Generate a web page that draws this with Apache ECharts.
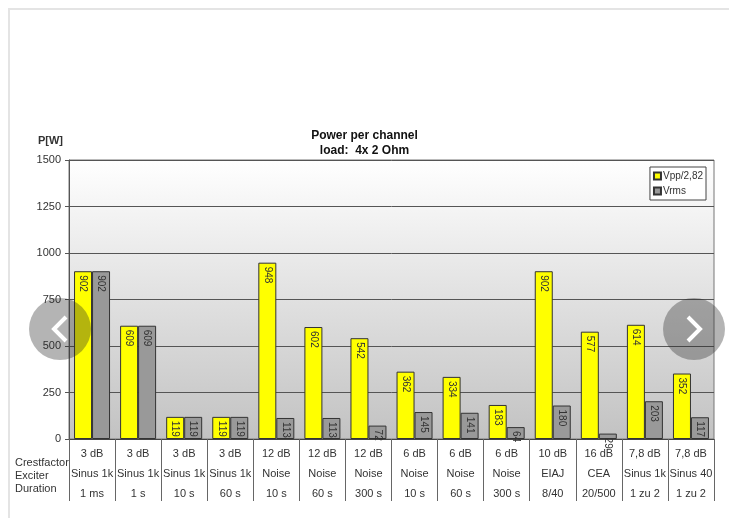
<!DOCTYPE html>
<html>
<head>
<meta charset="utf-8">
<script src="https://cdn.jsdelivr.net/npm/echarts@6/dist/echarts.min.js"></script>
<style>
  html, body { margin: 0; padding: 0; background: #fff; }
  #chart { width: 729px; height: 518px; }
</style>
</head>
<body>
<div id="chart"></div>
<script>
// test conditions (3 label rows under each category)
var crestfactor = ['3 dB', '3 dB', '3 dB', '3 dB', '12 dB', '12 dB', '12 dB', '6 dB', '6 dB', '6 dB', '10 dB', '16 dB', '7,8 dB', '7,8 dB'];
var exciter = ['Sinus 1k', 'Sinus 1k', 'Sinus 1k', 'Sinus 1k', 'Noise', 'Noise', 'Noise', 'Noise', 'Noise', 'Noise', 'EIAJ', 'CEA', 'Sinus 1k', 'Sinus 40'];
var duration = ['1 ms', '1 s', '10 s', '60 s', '10 s', '60 s', '300 s', '10 s', '60 s', '300 s', '8/40', '20/500', '1 zu 2', '1 zu 2'];

var vpp = [902, 609, 119, 119, 948, 602, 542, 362, 334, 183, 902, 577, 614, 352];
var vrms = [902, 609, 119, 119, 113, 113, 72, 145, 141, 64, 180, 29, 203, 117];

var yTicks = [0, 250, 500, 750, 1000, 1250, 1500];

window.onload = function() {
    var myChart = echarts.init(document.getElementById('chart'));

    var categories = crestfactor.map(function(c, i) {
        return c + '\n' + exciter[i] + '\n' + duration[i];
    });

    var barLabel = {
        show: true,
        position: 'insideTop',
        rotate: -90,
        align: 'left',
        verticalAlign: 'middle',
        distance: 4,
        fontSize: 10,
        color: '#333',
        fontFamily: 'Liberation Sans'
    };

    var option = {
        backgroundColor: '#fff',
        animation: false,
        title: {
            text: 'Power per channel\nload:  4x 2 Ohm',
            left: 'center',
            top: 123,
            textStyle: {
                fontSize: 12,
                fontWeight: 'bold',
                color: '#111',
                lineHeight: 15,
                fontFamily: 'Liberation Sans'
            }
        },
        legend: {
            data: ['Vpp/2,82', 'Vrms'],
            orient: 'vertical',
            right: 23,
            top: 167,
            icon: 'rect',
            itemWidth: 7,
            itemHeight: 7,
            itemGap: 5,
            padding: [4, 3, 4, 3],
            backgroundColor: '#fff',
            borderColor: '#444',
            borderWidth: 1,
            textStyle: {
                fontSize: 10,
                color: '#333',
                fontFamily: 'Liberation Sans',
                padding: [0, 0, 0, -3]
            }
        },
        grid: {
            left: 69,
            right: 15,
            top: 160,
            bottom: 79,
            show: true,
            borderColor: '#777',
            borderWidth: 1,
            backgroundColor: new echarts.graphic.LinearGradient(0, 0, 0, 1, [
                { offset: 0, color: '#ffffff' },
                { offset: 1, color: '#c2c2c2' }
            ])
        },
        xAxis: {
            type: 'category',
            data: categories,
            axisLine: { lineStyle: { color: '#444' } },
            axisTick: {
                show: true,
                length: 62,
                lineStyle: { color: '#666' }
            },
            axisLabel: {
                interval: 0,
                margin: 5,
                fontSize: 11,
                lineHeight: 20,
                color: '#333',
                fontFamily: 'Liberation Sans'
            }
        },
        yAxis: {
            type: 'value',
            min: 0,
            max: 1500,
            interval: 250,
            name: 'P[W]',
            nameLocation: 'end',
            nameGap: 14,
            nameTextStyle: {
                fontSize: 11,
                fontWeight: 'bold',
                color: '#333',
                align: 'right',
                padding: [0, 6, 0, 0],
                fontFamily: 'Liberation Sans'
            },
            axisLine: { show: true, lineStyle: { color: '#555' } },
            axisTick: { show: true, length: 4, lineStyle: { color: '#555' } },
            axisLabel: {
                fontSize: 11,
                color: '#333',
                margin: 8,
                fontFamily: 'Liberation Sans',
                formatter: function(v) { return String(v); }
            },
            splitLine: { lineStyle: { color: '#555', width: 1 } }
        },
        series: [{
            name: 'Vpp/2,82',
            type: 'bar',
            data: vpp,
            barWidth: 18,
            barGap: '0%',
            itemStyle: { color: '#ffff00', borderColor: '#333', borderWidth: 1 },
            label: barLabel
        }, {
            name: 'Vrms',
            type: 'bar',
            data: vrms,
            barWidth: 18,
            itemStyle: { color: '#999999', borderColor: '#333', borderWidth: 1 },
            label: barLabel
        }],
        graphic: [
            // page frame
            { type: 'polyline', shape: { points: [[9, 518], [9, 9], [729, 9]] },
              style: { stroke: '#e4e4e4', lineWidth: 2, fill: null } },
            // row captions of the table
            { type: 'text', left: 15, top: 456,
              style: { text: 'Crestfactor\nExciter\nDuration', fontSize: 11, lineHeight: 13,
                       fill: '#333', fontFamily: 'Liberation Sans' } },
            // carousel arrows
            { type: 'circle', shape: { cx: 60, cy: 329, r: 31 },
              style: { fill: 'rgba(40,40,40,0.35)' }, z: 100 },
            { type: 'polyline', shape: { points: [[66, 317], [54, 329], [66, 341]] },
              style: { stroke: '#fff', lineWidth: 4, fill: null }, z: 101 },
            { type: 'circle', shape: { cx: 694, cy: 329, r: 31 },
              style: { fill: 'rgba(40,40,40,0.35)' }, z: 100 },
            { type: 'polyline', shape: { points: [[688, 317], [700, 329], [688, 341]] },
              style: { stroke: '#fff', lineWidth: 4, fill: null }, z: 101 }
        ]
    };

    myChart.setOption(option);
};
</script>
</body>
</html>
